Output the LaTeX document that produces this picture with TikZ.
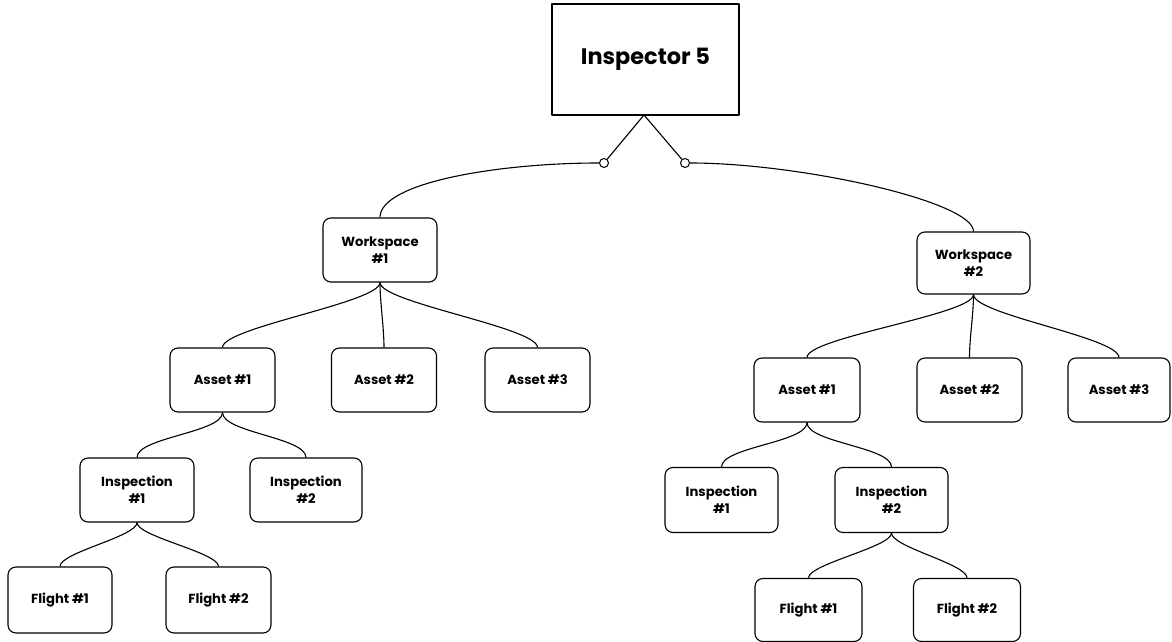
\documentclass[tikz,border=0pt]{standalone}
\usepackage{fontspec}
\setmainfont{Poppins}
\begin{document}
\begin{tikzpicture}[>=latex,line join=bevel,line width=1.1bp,
  box/.style={draw,rounded corners=8bp,align=center,font=\bfseries\fontsize{13.2}{17}\selectfont,minimum width=105bp,minimum height=64bp,inner sep=0bp},
  rootbox/.style={draw,align=center,font=\bfseries\fontsize{22.5}{26}\selectfont,minimum width=187bp,minimum height=111bp,inner sep=0bp},
  knob/.style={draw,circle,fill=white,inner sep=0bp,minimum size=9bp,line width=1bp},
  link/.style={draw,black}]
%%
\useasboundingbox (0bp,0bp) rectangle (1172bp,642bp);
\node (insp) at (645.5bp,582.5bp) [rootbox] {Inspector 5};
  \coordinate (apex) at (644bp,527bp);
  \node (knob_1) at (604bp,479bp) [knob] {};
  \node (knob_2) at (685bp,479bp) [knob] {};
  \node (ws_1) at (380bp,392bp) [box,minimum width=114bp] {Workspace\\\#1};
  \node (ws_2) at (973.5bp,379bp) [box,minimum width=113bp,minimum height=62bp] {Workspace\\\#2};
  \node (a1_1) at (222.5bp,262bp) [box] {Asset \#1};
  \node (a1_2) at (384bp,262bp) [box] {Asset \#2};
  \node (a1_3) at (537.5bp,262bp) [box] {Asset \#3};
  \node (a2_1) at (807bp,252bp) [box,minimum width=106bp] {Asset \#1};
  \node (a2_2) at (969.5bp,252bp) [box] {Asset \#2};
  \node (a2_3) at (1119bp,252bp) [box,minimum width=102bp] {Asset \#3};
  \node (i1_1) at (137bp,152bp) [box,minimum width=114bp] {Inspection\\\#1};
  \node (i1_2) at (306bp,152bp) [box,minimum width=112bp] {Inspection\\\#2};
  \node (i2_1) at (721.5bp,142bp) [box,minimum width=113bp,minimum height=65bp] {Inspection\\\#1};
  \node (i2_2) at (891.5bp,142bp) [box,minimum width=113bp,minimum height=65bp] {Inspection\\\#2};
  \node (f1_1) at (60bp,42bp) [box,minimum width=104bp,minimum height=66bp] {Flight \#1};
  \node (f1_2) at (218.5bp,42bp) [box,minimum width=105bp,minimum height=66bp] {Flight \#2};
  \node (f2_1) at (808.5bp,32bp) [box,minimum width=107bp,minimum height=63bp] {Flight \#1};
  \node (f2_2) at (967bp,32bp) [box,minimum width=107bp,minimum height=63bp] {Flight \#2};
%
  \draw [link] (apex) -- (knob_1);
  \draw [link] (apex) -- (knob_2);
  \draw [link] (knob_1.west) ..controls +(-100bp,0bp) and +(0bp,35bp) .. (ws_1.north);
  \draw [link] (knob_2.east) ..controls +(110bp,0bp) and +(0bp,30bp) .. (ws_2.north);
%
  \foreach \p/\c in {ws_1/a1_1,ws_1/a1_2,ws_1/a1_3,ws_2/a2_1,ws_2/a2_2,ws_2/a2_3,
                     a1_1/i1_1,a1_1/i1_2,a2_1/i2_1,a2_1/i2_2}
    \draw [link] (\p.south) ..controls +(0bp,-20bp) and +(0bp,20bp) .. (\c.north);
  \foreach \p/\c in {i1_1/f1_1,i1_1/f1_2,i2_2/f2_1,i2_2/f2_2}
    \draw [link] (\p.south) ..controls +(0bp,-14bp) and +(0bp,14bp) .. (\c.north);
%
\end{tikzpicture}
\end{document}
